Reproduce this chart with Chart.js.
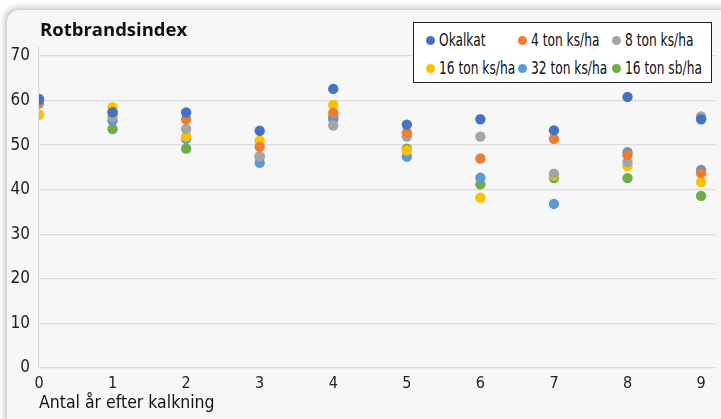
<!DOCTYPE html>
<html>
<head>
<meta charset="utf-8">
<script src="https://cdn.jsdelivr.net/npm/chart.js@4/dist/chart.umd.min.js"></script>
<style>
    html, body { margin: 0; padding: 0; background: #ffffff; }
    #wrap { position: relative; width: 721px; height: 419px; overflow: hidden; }
    #card {
        position: absolute; left: 7px; top: 10px; width: 740px; height: 440px;
        background: #f7f7f7; border-radius: 12px;
        box-shadow: -2px -2px 6px rgba(0,0,0,0.25);
    }
    #chart { position: absolute; left: 0; top: 0; }
    #title {
        position: absolute; left: 40px; top: 16px;
        font: bold 18.5px 'Open Sans', sans-serif; color: #111;
    }
    #legend {
        position: absolute; left: 413px; top: 22px; width: 297px; height: 59px;
        background: #ffffff; border: 1.5px solid #222;
        font: 17px 'DejaVu Sans Condensed', sans-serif; color: #111;
    }
    .item { position: absolute; white-space: nowrap; line-height: 20px; }
    .dot { display: inline-block; width: 9px; height: 9px; border-radius: 50%; margin-right: 4px; vertical-align: 1px; }
    .txt { display: inline-block; transform: scaleX(0.8); transform-origin: left center; }
</style>
</head>
<body>
<div id="wrap">
    <div id="card"></div>
    <canvas id="chart" width="721" height="419"></canvas>
    <div id="title">Rotbrandsindex</div>
    <div id="legend"></div>
</div>
<script>
// years after liming
var years = [0, 1, 2, 3, 4, 5, 6, 7, 8, 9];
var seriesNames = ["Okalkat", "4 ton ks/ha", "8 ton ks/ha", "16 ton ks/ha", "32 ton ks/ha", "16 ton sb/ha"];
var seriesColors = ["#4472C4", "#ED7D31", "#A5A5A5", "#FFC000", "#5B9BD5", "#70AD47"];

var okalkat = [60.2, 57.4, 57.3, 53.2, 62.6, 54.6, 55.8, 53.3, 60.8, 55.8];
var ton4ks  = [59.5, 57.3, 55.8, 49.6, 57.2, 52.8, 47.0, 51.4, 47.8, 43.7];
var ton8ks  = [59.5, 56.4, 53.6, 47.5, 54.4, 51.9, 51.9, 43.6, 46.2, 56.4];
var ton16ks = [56.8, 58.5, 51.9, 51.0, 59.0, 48.8, 38.2, 43.2, 45.3, 41.7];
var ton32ks = [60.4, 55.5, 51.4, 46.0, 55.8, 47.4, 42.7, 36.8, 48.4, 44.4];
var ton16sb = [59.3, 53.6, 49.2, 47.4, 56.2, 49.2, 41.2, 42.6, 42.6, 38.6];
var allSeries = [okalkat, ton4ks, ton8ks, ton16ks, ton32ks, ton16sb];

var yTicks = [0, 10, 20, 30, 40, 50, 60, 70];

var font = "'DejaVu Sans Condensed', sans-serif";

//build datasets
var datasets = [];
for (var i = 0; i < allSeries.length; i++) {
    var pts = [];
    for (var j = 0; j < years.length; j++) {
        pts.push({ x: years[j], y: allSeries[i][j] });
    }
    datasets.push({
        label: seriesNames[i],
        data: pts,
        backgroundColor: seriesColors[i],
        borderColor: seriesColors[i],
        pointRadius: 5.2,
        pointBorderWidth: 0
    });
}

//html legend, 3 columns x 2 rows
var legend = document.getElementById("legend");
var colX = [12, 104, 198];
for (var i = 0; i < seriesNames.length; i++) {
    var el = document.createElement("div");
    el.className = "item";
    el.style.left = colX[i % 3] + "px";
    el.style.top = (i < 3 ? 7 : 35) + "px";
    el.innerHTML = '<span class="dot" style="background:' + seriesColors[i] + '"></span>';
    var t = document.createElement("span");
    t.className = "txt";
    t.textContent = seriesNames[i];
    el.appendChild(t);
    legend.appendChild(el);
}

new Chart(document.getElementById("chart"), {
    type: "scatter",
    data: { datasets: datasets },
    options: {
        responsive: false,
        animation: false,
        layout: { padding: { top: 47, left: 0, right: 0, bottom: 0 } },
        plugins: { legend: { display: false }, tooltip: { enabled: false } },
        scales: {
            x: {
                type: "linear",
                min: 0,
                max: 9.2,
                afterFit: function (scale) { scale.height = 51; },
                grid: { display: false },
                border: { display: false },
                ticks: {
                    stepSize: 1,
                    includeBounds: false,
                    padding: -2,
                    color: "#222",
                    font: { family: font, size: 16 }
                },
                title: {
                    display: true,
                    text: "Antal år efter kalkning",
                    align: "start",
                    color: "#111",
                    padding: { top: 0, bottom: 5 },
                    font: { family: font, size: 17.5 }
                }
            },
            y: {
                min: 0,
                max: 72,
                afterFit: function (scale) { scale.width = 39; },
                afterBuildTicks: function (scale) {
                    scale.ticks = yTicks.map(function (v) { return { value: v }; });
                },
                grid: { color: "#dcdcdc", lineWidth: 1.2, drawTicks: false },
                border: { display: true, color: "#dcdcdc", width: 1.2 },
                ticks: {
                    padding: 9,
                    color: "#222",
                    font: { family: font, size: 17 }
                }
            }
        }
    }
});
</script>
</body>
</html>
